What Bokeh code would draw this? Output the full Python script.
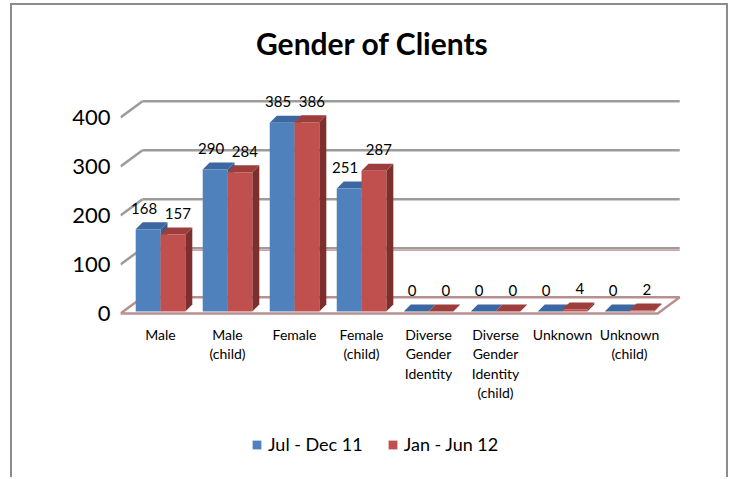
from bokeh.plotting import figure
from bokeh.layouts import column
from bokeh.models import FixedTicker, Range1d, Legend, LegendItem, ColumnDataSource, Label
from bokeh.core.properties import value
from bokeh.embed import file_html
from bokeh.resources import INLINE

# ---------------- data ----------------
categories = ["Male", "Male\n(child)", "Female", "Female\n(child)",
              "Diverse\nGender\nIdentity", "Diverse\nGender\nIdentity\n(child)",
              "Unknown", "Unknown\n(child)"]
jul_dec_11 = [168, 290, 385, 251, 0, 0, 0, 0]
jan_jun_12 = [157, 284, 386, 287, 0, 0, 4, 2]
series_names = ["Jul - Dec 11", "Jan - Jun 12"]
y_ticks = [0, 100, 200, 300, 400]
title_text = "Gender of Clients"

# ---------------- style ----------------
FONT = "Lato"
BLUE = ("#4F81BD", "#3D67A0", "#385D8A")   # front, top, side
RED = ("#C0504D", "#9E3E3C", "#7D2F2D")
GRID = "#9c9c9c"
BAR_W = 0.37          # category units
DX = 7 / 67.0         # bar depth (x, category units)
DY = 7 / 0.49         # bar depth (y, value units)
WALL_DX = 22 / 67.0   # chart depth
WALL_BACK = 29        # back wall offset (value units)
WALL_FRONT = -4       # front plane offset (value units)
X0, X1 = -0.597, 7.82
FLOOR_RIGHT = 7.42
W = 714
NAN = float("nan")

p = figure(width=W, height=411, output_backend="svg", toolbar_location=None,
           title=None,
           x_range=Range1d(X0, X1), y_range=Range1d(-10.2, 624.5),
           min_border_left=108, min_border_right=42, min_border_top=0,
           min_border_bottom=100)
p.outline_line_color = None
p.xgrid.visible = False
p.ygrid.visible = False

# title (inside the plot canvas, screen units)
p.add_layout(Label(x=252, y=274, x_units="screen", y_units="screen",
                   text=title_text, text_font=FONT, text_font_style="bold",
                   text_font_size="30px", text_color="black",
                   text_align="center", text_baseline="middle"))

# floor
back_x0 = X0 + WALL_DX
p.patch(x=[X0, FLOOR_RIGHT, FLOOR_RIGHT + WALL_DX, back_x0],
        y=[WALL_FRONT, WALL_FRONT, WALL_BACK, WALL_BACK],
        fill_color="white", line_color="#b89090", line_width=2.5)

# walls / gridlines
grid_vals = [v for v in y_ticks if v > 0]
p.multi_line(xs=[[back_x0, FLOOR_RIGHT + WALL_DX] for v in grid_vals],
             ys=[[v + WALL_BACK, v + WALL_BACK] for v in grid_vals],
             line_color=GRID, line_width=2.5)
p.multi_line(xs=[[X0, back_x0] for v in grid_vals],
             ys=[[v + WALL_FRONT, v + WALL_BACK] for v in grid_vals],
             line_color=GRID, line_width=2.5)
p.line(x=[back_x0, FLOOR_RIGHT + WALL_DX], y=[grid_vals[0] + WALL_BACK - 4] * 2,
       line_color="#d4a0a0", line_width=1.5)


def draw_series(vals, x_shift, colors, label_dx):
    xs0 = [i + x_shift for i in range(len(vals))]
    xs1 = [x + BAR_W for x in xs0]
    side_x = [[a, a + DX, a + DX, a] for a in xs1]
    side_y = [[0, DY, v + DY, v] for v in vals]
    p.patches(xs=side_x, ys=side_y, fill_color=colors[2], line_color=None)
    top_x = [[a, b, b + DX, a + DX] for a, b in zip(xs0, xs1)]
    top_y = [[v, v, v + DY, v + DY] for v in vals]
    p.patches(xs=top_x, ys=top_y, fill_color=colors[1], line_color=None)
    r = p.quad(left=xs0, right=xs1, bottom=[0] * len(vals), top=vals,
               fill_color=colors[0], line_color=None)
    src = ColumnDataSource(dict(x=[(a + b) / 2 for a, b in zip(xs0, xs1)],
                                y=vals, t=[str(v) for v in vals]))
    p.text(x="x", y="y", text="t", source=src, text_align="center",
           text_baseline="middle", x_offset=label_dx, y_offset=-21,
           text_font=value(FONT), text_font_size="15px", text_color="black")
    return r


draw_series(jul_dec_11, -BAR_W, BLUE, -4)
draw_series(jan_jun_12, 0.0, RED, 5)

# axes
p.yaxis.ticker = FixedTicker(ticks=[v + WALL_FRONT for v in y_ticks])
p.yaxis.major_label_overrides = {v + WALL_FRONT: str(v) for v in y_ticks}
p.yaxis.axis_line_color = None
p.yaxis.major_tick_line_color = None
p.yaxis.minor_tick_line_color = None
p.yaxis.major_label_text_font = FONT
p.yaxis.major_label_text_font_size = "22px"
p.yaxis.major_label_text_color = "black"
p.yaxis.major_label_standoff = 4

p.xaxis.ticker = FixedTicker(ticks=list(range(len(categories))))
p.xaxis.major_label_overrides = {i: c for i, c in enumerate(categories)}
p.xaxis.axis_line_color = None
p.xaxis.major_tick_line_color = None
p.xaxis.minor_tick_line_color = None
p.xaxis.major_label_text_font = FONT
p.xaxis.major_label_text_font_size = "14px"
p.xaxis.major_label_text_color = "black"
p.xaxis.major_label_text_line_height = 1.15
p.xaxis.major_label_standoff = 3

# legend strip
lf = figure(width=W, height=61, output_backend="svg", toolbar_location=None,
            x_range=Range1d(0, 1), y_range=Range1d(0, 1),
            x_axis_location=None, y_axis_location=None, min_border=0)
lf.outline_line_color = None
lf.xgrid.visible = False
lf.ygrid.visible = False
lr1 = lf.quad(left=[NAN], right=[NAN], top=[NAN], bottom=[NAN],
              fill_color=BLUE[0], line_color=None)
lr2 = lf.quad(left=[NAN], right=[NAN], top=[NAN], bottom=[NAN],
              fill_color=RED[0], line_color=None)
legend = Legend(items=[LegendItem(label=series_names[0], renderers=[lr1]),
                       LegendItem(label=series_names[1], renderers=[lr2])],
                orientation="horizontal", location=(131, 22),
                glyph_width=11, glyph_height=11, label_text_font=FONT,
                label_text_font_size="18px", label_text_color="black",
                label_standoff=6, spacing=24,
                padding=0, margin=0, border_line_color=None,
                background_fill_alpha=0, label_height=20)
lf.add_layout(legend)

layout = column(p, lf, spacing=0)
layout.styles = {"margin-left": "10px", "margin-top": "3px",
                 "border-left": "2px solid #8c8c8c", "border-right": "2px solid #8c8c8c",
                 "border-top": "2px solid #8c8c8c"}

open("out.html", "w").write(file_html(layout, INLINE))
